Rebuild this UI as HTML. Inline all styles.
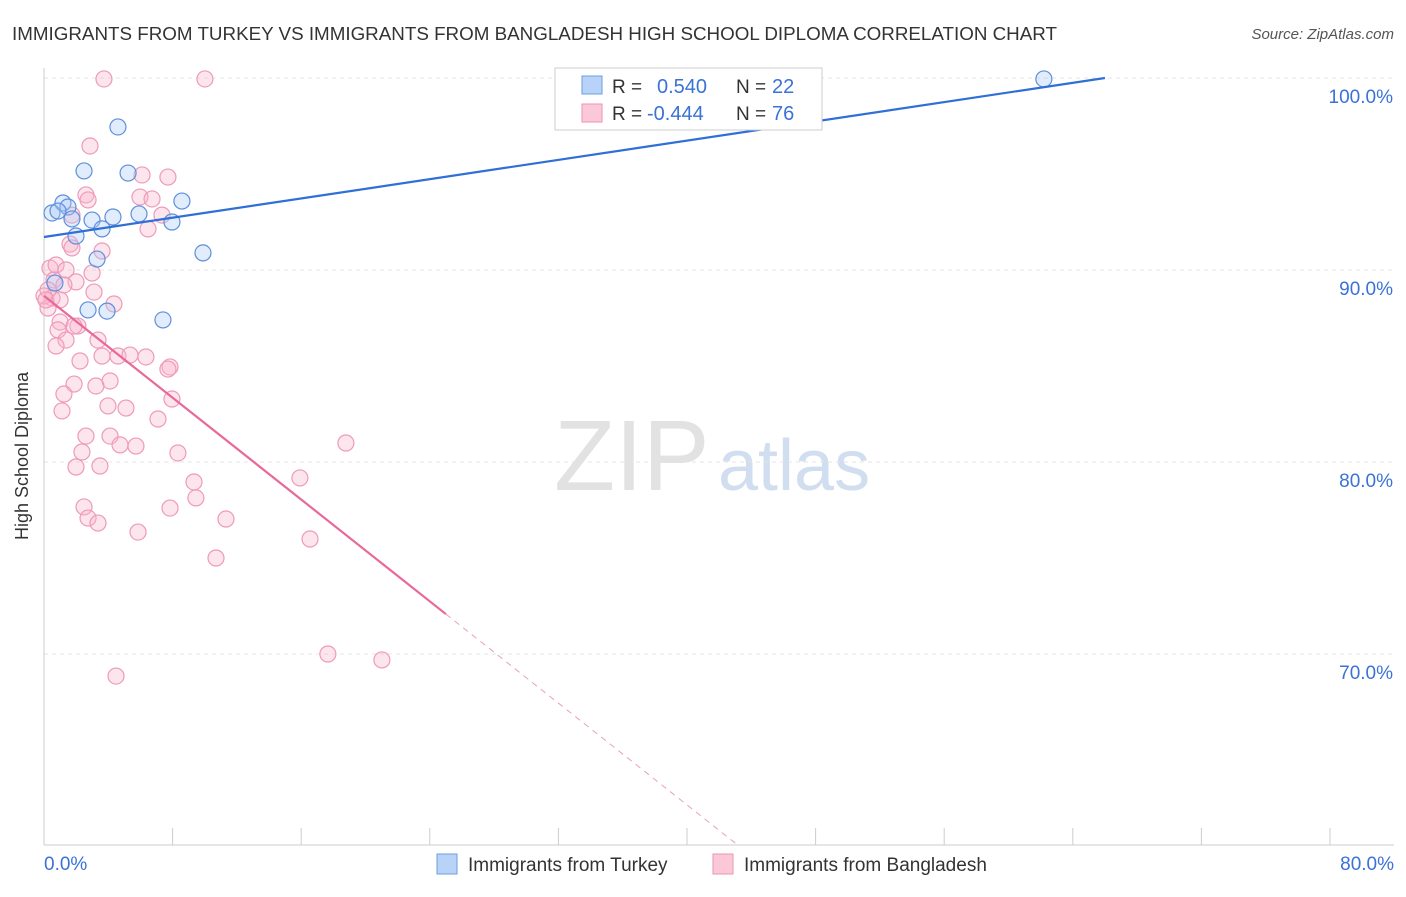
<!DOCTYPE html>
<html><head><meta charset="utf-8"><style>
body{margin:0;background:#fff;font-family:"Liberation Sans",sans-serif;}
svg text{font-family:"Liberation Sans",sans-serif;}
</style></head><body>
<svg id="c" width="1406" height="892">
<text x="12" y="40" font-size="18" fill="#333" textLength="1045" lengthAdjust="spacingAndGlyphs">IMMIGRANTS FROM TURKEY VS IMMIGRANTS FROM BANGLADESH HIGH SCHOOL DIPLOMA CORRELATION CHART</text>
<text x="1394" y="39" font-size="15" fill="#555" text-anchor="end" font-style="italic">Source: ZipAtlas.com</text>
<text x="28" y="456" font-size="18" fill="#333" text-anchor="middle" transform="rotate(-90 28 456)">High School Diploma</text>
<text x="554" y="490" font-size="100" fill="#e2e2e2" font-family="Liberation Serif">ZIP</text>
<text x="718" y="490" font-size="72" fill="#d0deef">atlas</text>
<g id="grid"></g><g id="marks"></g>
<g>
<rect x="555" y="68" width="267" height="62" fill="#fff" stroke="#ccc"/>
<rect x="582" y="76" width="20" height="18" fill="#b8d3f7" stroke="#6d9fe0"/>
<rect x="582" y="104" width="20" height="18" fill="#fbc8d8" stroke="#ee93b2"/>
<text x="612" y="93" font-size="19" fill="#333">R = </text><text x="657" y="93" font-size="20" fill="#3a72d6">0.540</text>
<text x="736" y="93" font-size="19" fill="#333">N = </text><text x="772" y="93" font-size="20" fill="#3a72d6">22</text>
<text x="612" y="120" font-size="19" fill="#333">R = </text><text x="647" y="120" font-size="20" fill="#3a72d6">-0.444</text>
<text x="736" y="120" font-size="19" fill="#333">N = </text><text x="772" y="120" font-size="20" fill="#3a72d6">76</text>
</g>
<g>
<rect x="437" y="854" width="20" height="20" fill="#b8d3f7" stroke="#6d9fe0"/>
<text x="468" y="871" font-size="19" fill="#333">Immigrants from Turkey</text>
<rect x="713" y="854" width="20" height="20" fill="#fbc8d8" stroke="#ee93b2"/>
<text x="744" y="871" font-size="19" fill="#333">Immigrants from Bangladesh</text>
</g>
</svg>
<script>
const xTicks=[0,8,16,24,32,40,48,56,64,72,80];
const yTicks=[70,80,90,100];
const turkeyX=[62.2,4.6,2.49,5.23,1.18,8.58,1.49,0.5,0.87,1.74,2.99,4.29,5.91,7.96,3.61,1.99,9.89,3.3,0.68,2.74,3.92,7.4];
const turkeyY=[99.95,97.45,95.16,95.05,93.49,93.59,93.28,92.97,93.07,92.66,92.6,92.76,92.92,92.5,92.14,91.77,90.89,90.57,89.32,87.92,87.86,87.4];
const bangPx=[[104,79],[205,79],[90,146],[142,175],[168,177],[86,195],[140,197],[152,199],[88,200],[72,215],[162,215],[148,229],[70,244],[102,251],[72,248],[50,268],[56,265],[66,270],[92,273],[76,282],[54,280],[48,290],[94,292],[52,298],[114,304],[48,308],[60,322],[78,326],[74,326],[58,330],[66,340],[98,340],[56,346],[102,356],[118,356],[130,355],[146,357],[80,361],[170,367],[168,369],[110,381],[74,384],[96,386],[64,394],[172,399],[108,406],[126,408],[62,411],[158,419],[346,443],[86,436],[110,436],[120,445],[136,446],[178,453],[82,452],[100,466],[76,467],[300,478],[194,482],[196,498],[170,508],[84,507],[88,518],[226,519],[98,523],[138,532],[310,539],[216,558],[328,654],[382,660],[116,676],[44,296],[46,300],[60,300],[64,285]];
const bangX=bangPx.map(p=>+((p[0]-44)*0.0622).toFixed(2));
const bangY=bangPx.map(p=>+(100-(p[1]-78)/19.2).toFixed(2));
const turkeyTrend=[[0,91.72],[66,100]];
const bangTrend=[[0,88.65],[25,72.08]];
const bangTrendDash=[[25,72.08],[43.2,60.02]];
const X=v=>44+v/80*1286, Y=v=>78+(100-v)*19.2;
const NS="http://www.w3.org/2000/svg";
function mk(t,a,p){const e=document.createElementNS(NS,t);for(const k in a)e.setAttribute(k,a[k]);p.appendChild(e);return e;}
const g=document.getElementById('grid'),m=document.getElementById('marks');
yTicks.forEach(v=>{const l=mk('line',{x1:44,x2:1394,y1:Y(v),y2:Y(v),stroke:'#e4e4e4','stroke-dasharray':'4,4'},g);


const t=mk('text',{x:1393,y:Y(v)+25,'font-size':19,fill:'#3a72d6','text-anchor':'end'},g);t.textContent=v.toFixed(1)+'%';

});
mk('line',{x1:44,x2:44,y1:68,y2:845,stroke:'#ccc'},g);
mk('line',{x1:44,x2:1394,y1:845,y2:845,stroke:'#ccc'},g);
xTicks.forEach(v=>{const l=mk('line',{x1:X(v),x2:X(v),y1:828,y2:845,stroke:'#ccc'},g);

});
[[0,'start',44],[80,'end',1394]].forEach(([v,a,x])=>{const t=mk('text',{x:x,y:870,'font-size':19,fill:'#3a72d6','text-anchor':a},g);t.textContent=v.toFixed(1)+'%';

});
bangX.forEach((x,i)=>{const c=mk('circle',{cx:X(x),cy:Y(bangY[i]),r:8,fill:'rgba(248,180,202,0.35)',stroke:'#ee9ab8','stroke-width':1.2},m);

});
turkeyX.forEach((x,i)=>{const c=mk('circle',{cx:X(x),cy:Y(turkeyY[i]),r:8,fill:'rgba(170,200,245,0.35)',stroke:'#5d8fdc','stroke-width':1.2},m);

});
let l=mk('line',{x1:X(turkeyTrend[0][0]),y1:Y(turkeyTrend[0][1]),x2:X(turkeyTrend[1][0]),y2:Y(turkeyTrend[1][1]),stroke:'#2f6fd6','stroke-width':2.2},m);


l=mk('line',{x1:X(bangTrend[0][0]),y1:Y(bangTrend[0][1]),x2:X(bangTrend[1][0]),y2:Y(bangTrend[1][1]),stroke:'#e8699a','stroke-width':2.2},m);


l=mk('line',{x1:X(bangTrendDash[0][0]),y1:Y(bangTrendDash[0][1]),x2:X(bangTrendDash[1][0]),y2:Y(bangTrendDash[1][1]),stroke:'#e8a0bb','stroke-width':1,'stroke-dasharray':'6,5'},m);


</script>
</body></html>
